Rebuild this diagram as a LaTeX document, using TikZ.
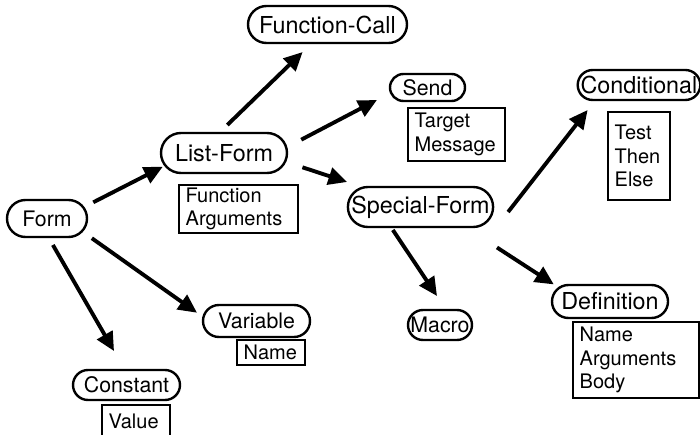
\documentclass[tikz,border=0pt]{standalone}
\usepackage{fontspec}
\setmainfont{TeX Gyre Heros}
\usetikzlibrary{shapes.misc,arrows.meta,calc}

\begin{document}
\begin{tikzpicture}[x=0.75pt,y=0.75pt,yscale=-1,xscale=1,
	kind/.style={draw, rounded rectangle, line width=1.8pt, inner xsep=0pt, inner ysep=0pt, outer sep=0pt, font=\fontsize{17.5}{20}\selectfont},
	minor/.style={font=\fontsize{16}{19}\selectfont},
	slot/.style={draw, rectangle, line width=1.4pt, align=left, inner xsep=5pt, inner ysep=0pt, outer sep=0pt, font=\fontsize{15}{17.5}\selectfont},
	isa/.style={-{Triangle[length=14pt,width=13pt]}, line width=2.9pt}]

	\useasboundingbox (0,0) rectangle (700,435);

	%%KINDS OF FORM-----------------------------------------
	\node[kind, minor, minimum width=60pt, minimum height=27.75pt] (form) at (47,218.5) {Form};
	\node[kind, minimum width=94.5pt, minimum height=30pt] (listform) at (224,153) {List-Form};
	\node[kind, minimum width=119.25pt, minimum height=27.75pt] (funcall) at (327.5,24.5) {Function-Call};
	\node[kind, minor, minimum width=56.25pt, minimum height=20.25pt] (send) at (427.5,87.5) {Send};
	\node[kind, minimum width=108.75pt, minimum height=30pt] (special) at (420.5,207) {Special-Form};
	\node[kind, minimum width=88.5pt, minimum height=22.5pt] (cond) at (639,85) {Conditional};
	\node[kind, minor, minimum width=48pt, minimum height=22.5pt] (macro) at (440,325) {Macro};
	\node[kind, minimum width=87pt, minimum height=24.75pt] (definition) at (610,301.5) {Definition};
	\node[kind, minor, minimum width=80.25pt, minimum height=24pt] (variable) at (256.5,321) {Variable};
	\node[kind, minor, minimum width=80.25pt, minimum height=22.5pt] (constant) at (126.5,385) {Constant};

	%%SLOTS------------------------------------------------
	\node[slot, text width=79.25pt, minimum height=36pt] (listslots) at (238.5,209) {Function\\Arguments};
	\node[slot, text width=62.75pt, minimum height=39.75pt] (sendslots) at (456.5,134.5) {Target\\Message};
	\node[slot, text width=36.5pt, minimum height=66pt] (condslots) at (639,156) {Test\\Then\\Else};
	\node[slot, text width=84.5pt, minimum height=57pt] (defslots) at (636,360) {Name\\Arguments\\Body};
	\node[slot, text width=41pt, minimum height=18.75pt] (varslots) at (271,352.5) {Name};
	\node[slot, text width=41pt, minimum height=24pt] (constslots) at (136,421) {Value};

	%%ARROWS-----------------------------------------------
	\draw[isa, shorten <=8.4pt, shorten >=2.2pt] (form.17.7) -- (listform.192.3);
	\draw[isa, shorten <=8.7pt, shorten >=9.75pt] (listform.104.8) -- (funcall.230.8);
	\draw[isa, shorten <=12.7pt, shorten >=11.9pt] (listform.5.8) -- (send.188.3);
	\draw[isa, shorten <=13.7pt, shorten >=13.1pt] (listform.352.4) -- (special.161);
	\draw[isa, shorten <=9.1pt, shorten >=5.9pt] (form.340.4) -- (variable.176.3);
	\draw[isa, shorten <=6.9pt, shorten >=16.4pt] (form.274.3) -- (constant.96.1);
	\draw[isa, shorten <=2.7pt, shorten >=12.6pt] (special.214.1) -- (macro.67.2);
	\draw[isa, shorten <=28.2pt, shorten >=4.8pt] (special.336.6) -- (definition.165.9);
	\draw[isa, shorten >=9.5pt] ($(special.east)+(15,5)$) -- (cond.199.2);

\end{tikzpicture}
\end{document}
